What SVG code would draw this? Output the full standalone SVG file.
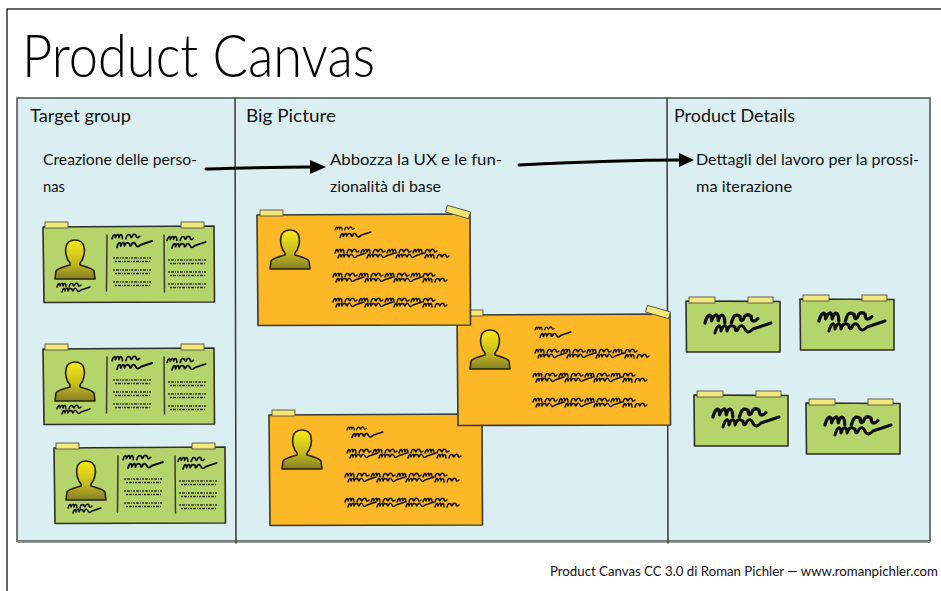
<svg xmlns="http://www.w3.org/2000/svg" xmlns:xlink="http://www.w3.org/1999/xlink" width="941" height="591" viewBox="0 0 941 591">
  <style>
    .t { font-family: "Lato", "Open Sans", "Liberation Sans", sans-serif; font-weight: 400; fill: #111; }
    .title { font-size: 60px; font-weight: 300; fill: #000; }
    .head { font-size: 18px; }
    .sub { font-size: 15px; }
    .foot { font-size: 12.5px; }
    .card-g { fill: #b5d46c; stroke: #2e2e2a; stroke-width: 1.6; stroke-linejoin: round; }
    .card-o { fill: #fcb826; stroke: #3a3a34; stroke-width: 1.6; stroke-linejoin: round; }
    .tape { fill: #f2e87c; stroke: #55534a; stroke-width: 0.9; }
    .ink { fill: none; stroke: #111; stroke-width: 1.5; stroke-linecap: round; stroke-linejoin: round; }
    .fine { fill: none; stroke: #333; stroke-width: 1.3; stroke-dasharray: 2 1 3 1 1 1; }
    .div { stroke: #3a3a34; stroke-width: 1.5; fill: none; stroke-linecap: round; }
    .conn { fill: none; stroke: #000; stroke-width: 3; stroke-linecap: round; }
    .head-tri { fill: #000; }
  </style>
  <defs>
    <linearGradient id="skin" x1="0" y1="0" x2="0" y2="1">
      <stop offset="0" stop-color="#f6ea18"/>
      <stop offset="0.55" stop-color="#c9bd1e"/>
      <stop offset="1" stop-color="#857f26"/>
    </linearGradient>
    <filter id="soft" x="-10%" y="-50%" width="120%" height="200%">
      <feGaussianBlur stdDeviation="0.45"/>
    </filter>
    <!-- person silhouette, 42 x 40 -->
    <path id="person" d="M16,23 C12,19 11,11 12,7 C13,2 17,0 21,0 C25,0 29,2 30,7 C31,11 30,19 26,23 L26,25 C32,27 38,28 40,31 L41,39 L1,39 L2,31 C4,28 10,27 16,25 Z" fill="url(#skin)" stroke="#24220e" stroke-width="1.6" stroke-linejoin="round"/>
    <!-- cursive squiggles -->
    <path id="w1" class="ink" d="M0,5 C1,1 3,0 3,4 C4,1 6,0 6,4 C7,0 9,1 9,5 M12,5 C13,1 14,1 16,2 C16,4 17,5 18,2 C19,1 20,1 21,2 C21,4 22,5 24,3"/>
    <path id="w2" class="ink" d="M0,5 C1,1 3,0 3,4 C4,1 6,0 6,4 C7,1 8,1 10,2 C10,4 11,5 12,2 C13,1 14,1 15,3 C16,5 17,5 19,3 L28,0"/>
    <!-- long double line of handwriting -->
    <g id="row" filter="url(#soft)">
      <use href="#w1" x="0" y="0"/>
      <use href="#w1" x="26" y="0"/>
      <use href="#w1" x="52" y="0"/>
      <use href="#w1" x="78" y="0"/>
      <use href="#w2" x="3" y="5"/>
      <use href="#w2" x="32" y="5"/>
      <use href="#w2" x="61" y="5"/>
      <use href="#w1" x="90" y="5"/>
    </g>
    <!-- pair of tiny print lines -->
    <g id="tiny" filter="url(#soft)">
      <path class="fine" d="M0,0 H38"/>
      <path class="fine" d="M2,3.5 H38"/>
    </g>
    <!-- persona card, 171 x 76 -->
    <g id="persona">
      <path class="card-g" d="M0,1 L171,0 L171.5,76 L1,76.5 Z"/>
      <rect class="tape" x="2" y="-4" width="23" height="6"/>
      <rect class="tape" x="138" y="-4" width="23" height="6"/>
      <use href="#person" x="11" y="14"/>
      <g filter="url(#soft)">
        <use href="#w1" x="14" y="56"/>
        <use href="#w2" x="19" y="61"/>
        <use href="#w1" transform="translate(69,7) scale(1.15)"/>
        <use href="#w2" transform="translate(74,15) scale(1.25)"/>
        <use href="#w1" transform="translate(124,9) scale(1.1)"/>
        <use href="#w2" transform="translate(129,16) scale(1.2)"/>
      </g>
      <path class="div" d="M64,9 L63.5,65"/>
      <path class="div" d="M121,9 L121.5,66"/>
      <use href="#tiny" x="70" y="32"/>
      <use href="#tiny" x="70" y="44"/>
      <use href="#tiny" x="70" y="56"/>
      <use href="#tiny" x="125" y="34"/>
      <use href="#tiny" x="125" y="46"/>
      <use href="#tiny" x="125" y="58"/>
    </g>
    <!-- big persona sheet, 213 x 110 -->
    <g id="sheet">
      <path class="card-o" d="M0,0 L213,-1 L213.5,110 L1,110.5 Z"/>
      <rect class="tape" x="3" y="-5" width="23" height="6"/>
      <rect class="tape" x="-12" y="-3.5" width="24" height="7" transform="translate(201,-3) rotate(16)"/>
      <use href="#person" x="12" y="15"/>
      <g filter="url(#soft)">
        <use href="#w1" transform="translate(78,11) scale(0.8)"/>
        <use href="#w2" transform="translate(83,17) scale(1.1)"/>
      </g>
      <use href="#row" x="78" y="33"/>
      <use href="#row" x="76" y="57"/>
      <use href="#row" x="76" y="82"/>
    </g>
    <!-- small note, 94 x 51 -->
    <g id="note">
      <path class="card-g" d="M0,0 L94,0.5 L94,51 L0.5,51 Z"/>
      <rect class="tape" x="3" y="-4" width="26" height="6"/>
      <rect class="tape" x="62" y="-4" width="25" height="6"/>
      <g filter="url(#soft)">
        <use href="#w1" transform="translate(19,11) scale(2.2)"/>
        <use href="#w2" transform="translate(29,22) scale(2.0)"/>
      </g>
    </g>
  </defs>

  <rect x="0" y="0" width="941" height="591" fill="#ffffff"/>
  <!-- page frame -->
  <path d="M7,591 V9 H941" fill="none" stroke="#333" stroke-width="1.5"/>

  <text class="t title" x="22" y="77" textLength="353" lengthAdjust="spacingAndGlyphs">Product Canvas</text>

  <!-- canvas board -->
  <g id="board">
    <rect x="17" y="98" width="913" height="443" fill="#dbeff3" stroke="#4a4d50" stroke-width="1.5"/>
    <path d="M17,542 H930" stroke="#8a9398" stroke-width="2" fill="none"/>
    <path class="div" d="M235,98 L236,543"/>
    <path class="div" d="M667,98 L668,543"/>
  </g>

  <g id="col-target">
    <text class="t head" x="30" y="122" textLength="101" lengthAdjust="spacingAndGlyphs">Target group</text>
    <text class="t sub" x="43" y="165" textLength="154" lengthAdjust="spacingAndGlyphs">Creazione delle perso-</text>
    <text class="t sub" x="43" y="192" textLength="22" lengthAdjust="spacingAndGlyphs">nas</text>
  </g>
  <g id="col-big">
    <text class="t head" x="246" y="122" textLength="90" lengthAdjust="spacingAndGlyphs">Big Picture</text>
    <text class="t sub" x="330" y="165" textLength="172" lengthAdjust="spacingAndGlyphs">Abbozza la UX e le fun-</text>
    <text class="t sub" x="330" y="192" textLength="111" lengthAdjust="spacingAndGlyphs">zionalità di base</text>
  </g>
  <g id="col-details">
    <text class="t head" x="674" y="122" textLength="121" lengthAdjust="spacingAndGlyphs">Product Details</text>
    <text class="t sub" x="696" y="165" textLength="223" lengthAdjust="spacingAndGlyphs">Dettagli del lavoro per la prossi-</text>
    <text class="t sub" x="696" y="192" textLength="96" lengthAdjust="spacingAndGlyphs">ma iterazione</text>
  </g>

  <!-- persona cards -->
  <g id="persona-1"><use href="#persona" x="43" y="226"/></g>
  <g id="persona-2"><use href="#persona" x="43" y="348"/></g>
  <g id="persona-3"><use href="#persona" x="54" y="447"/></g>

  <!-- big picture sheets, back to front -->
  <g id="sheet-3"><use href="#sheet" x="269" y="415"/></g>
  <g id="sheet-2"><use href="#sheet" x="457" y="315"/></g>
  <g id="sheet-1"><use href="#sheet" x="257" y="215"/></g>

  <!-- product detail notes -->
  <g id="note-1"><use href="#note" x="686" y="301"/></g>
  <g id="note-2"><use href="#note" x="800" y="299"/></g>
  <g id="note-3"><use href="#note" x="694" y="395"/></g>
  <g id="note-4"><use href="#note" x="806" y="403"/></g>

  <!-- flow arrows -->
  <g id="connectors">
    <path class="conn" d="M206,169 C240,168 280,167 312,167"/>
    <path class="head-tri" d="M310,160 L326,167 L310,174 Z"/>
    <path class="conn" d="M519,165 C580,162 640,160 680,160"/>
    <path class="head-tri" d="M679,153 L694,160 L679,167 Z"/>
  </g>

  <text class="t foot" x="550" y="576" textLength="388" lengthAdjust="spacingAndGlyphs">Product Canvas CC 3.0 di Roman Pichler — www.romanpichler.com</text>
</svg>
